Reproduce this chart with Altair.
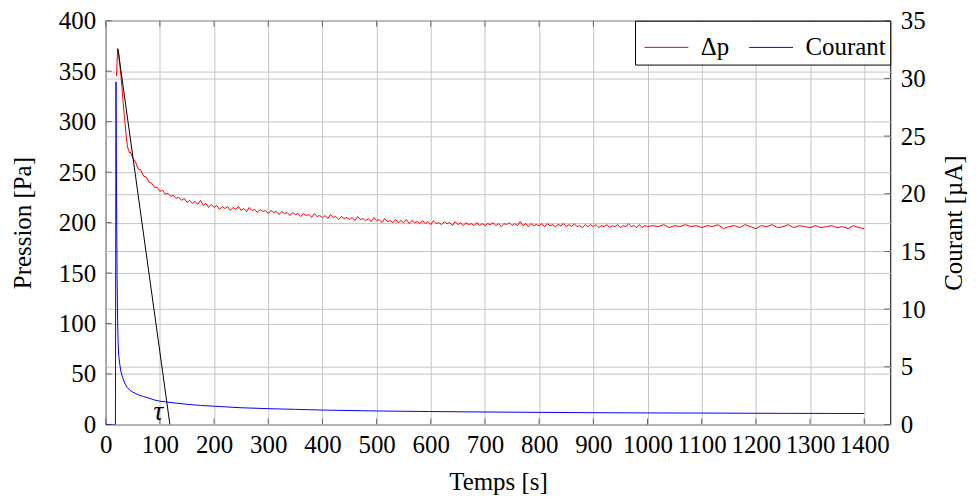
import altair as alt
import pandas as pd

# ---------------- data ----------------
# Δp (Pa): early transient, then samples every 5 s to 1000 s, then every 10 s to 1400 s
dp_early_t = [20, 22, 24, 26, 28, 30, 32, 34, 36, 38, 40, 42, 44, 46, 48, 50]
dp_early_v = [345, 372, 367, 356, 346, 334, 320, 308, 297, 285, 276, 272, 269, 270, 266, 264]

dp_mid_t = list(range(55, 1001, 5))
dp_mid_v = [
    260, 253, 252, 246, 245, 240, 239, 235, 235, 231,
    232, 228, 229, 226, 227, 224, 225, 222, 224, 220,
    222, 219, 221, 218, 222, 217, 219, 215, 218, 215,
    217, 213, 216, 214, 216, 212, 215, 213, 216, 212,
    214, 211, 215, 212, 213, 210, 213, 211, 212, 209,
    212, 210, 211, 208, 211, 209, 210, 207, 210, 208,
    209, 206, 209, 207, 208, 205, 209, 206, 207, 205,
    207, 204, 208, 205, 206, 203, 206, 204, 205, 203,
    205, 202, 206, 203, 204, 202, 204, 201, 205, 202,
    203, 200, 204, 201, 202, 200, 203, 200, 202, 200,
    203, 199, 202, 200, 201, 199, 202, 199, 201, 198,
    202, 199, 200, 198, 201, 199, 200, 197, 201, 198,
    200, 197, 200, 198, 199, 197, 200, 197, 199, 197,
    199, 198, 200, 197, 199, 196, 199, 198, 200, 197,
    199, 197, 201, 197, 199, 196, 199, 197, 198, 197,
    199, 196, 199, 197, 198, 196, 198, 197, 199, 196,
    198, 196, 199, 196, 197, 195, 198, 196, 198, 196,
    198, 195, 197, 196, 198, 195, 197, 196, 198, 195,
    197, 196, 199, 196, 197, 195, 198, 195, 197, 196,
]

dp_late_t = list(range(1010, 1401, 10))
dp_late_v = [
    197, 196, 198, 195, 197, 196, 198, 196, 197, 195,
    197, 196, 198, 194, 196, 197, 195, 198, 196, 194,
    197, 196, 198, 195, 196, 198, 195, 197, 196, 195,
    197, 195, 196, 197, 195, 196, 194, 197, 195, 194,
]

# Courant (µA)
cur_t = [0, 18, 19, 20, 21, 22, 23, 24, 26, 28, 31, 35, 40, 45, 50, 60, 70, 80, 90, 100,
         115, 130, 150, 175, 200, 250, 300, 350, 400, 500, 600, 700, 800, 900, 1000,
         1100, 1200, 1300, 1400]
cur_v = [0, 0, 29.7, 20, 13, 9, 7, 6, 5.2, 4.6, 4.1, 3.6, 3.2, 2.95, 2.8, 2.58, 2.42, 2.28,
         2.12, 2.02, 1.93, 1.85, 1.75, 1.65, 1.58, 1.45, 1.37, 1.31, 1.25, 1.17, 1.12, 1.08,
         1.05, 1.02, 1.0, 0.99, 0.97, 0.96, 0.95]

# tangent line (t, Pa)
tan_t = [22.5, 118.5]
tan_v = [372.5, 0]

# tau label
tau_t = [97]
tau_v = [12]

x_ticks = list(range(0, 1401, 100))
p_ticks = list(range(0, 401, 50))
c_ticks = list(range(0, 36, 5))

series_names = ["Δp", "Courant"]
series_colors = ["red", "blue"]

assert len(dp_mid_t) == len(dp_mid_v)
assert len(dp_late_t) == len(dp_late_v)
assert len(cur_t) == len(cur_v)

# ---------------- frames ----------------
dp_df = pd.DataFrame({
    "t": dp_early_t + dp_mid_t + dp_late_t,
    "v": dp_early_v + dp_mid_v + dp_late_v,
    "series": series_names[0],
})
cur_df = pd.DataFrame({"t": cur_t, "v": cur_v, "series": series_names[1]})
tan_df = pd.DataFrame({"t": tan_t, "v": tan_v})
tau_df = pd.DataFrame({"t": tau_t, "v": tau_v})
xt_df = pd.DataFrame({"t": x_ticks})
pt_df = pd.DataFrame({"v": p_ticks})
ct_df = pd.DataFrame({"v": c_ticks})

W, H = 787, 405
FONT = "Liberation Serif"
GRID = "#c4c4c4"
TICK = "#666666"

x_scale = alt.Scale(domain=[0, 1448], nice=False, zero=False)
x_axis = alt.Axis(values=x_ticks, title="Temps [s]", grid=True, tickSize=0,
                  labelOverlap=False, labelFlush=False, labelPadding=8,
                  titlePadding=12, domain=False, format="d")
yl_scale = alt.Scale(domain=[0, 400], nice=False)
yl_axis = alt.Axis(values=p_ticks, title="Pression [Pa]", grid=True, tickSize=0,
                   labelPadding=10, domain=False, labelFlush=False,
                   titleAngle=270, titleX=-83, titleY=H / 2,
                   titleAlign="center", titleBaseline="middle")
yr_scale = alt.Scale(domain=[0, 35], nice=False)
yr_axis = alt.Axis(values=c_ticks, title="Courant [µA]", orient="right", grid=True,
                   tickSize=0, labelPadding=10, titleAngle=270, titleX=63, titleY=H / 2,
                   titleAlign="center", titleBaseline="middle",
                   domain=False, labelFlush=False)

X = lambda: alt.X("t:Q", scale=x_scale, axis=x_axis)
YL = lambda: alt.Y("v:Q", scale=yl_scale, axis=yl_axis)
YR = lambda: alt.Y("v:Q", scale=yr_scale, axis=yr_axis)

color = alt.Color("series:N",
                  scale=alt.Scale(domain=series_names, range=series_colors),
                  legend=alt.Legend(title=None, orient="top-right", offset=0,
                                    direction="horizontal", symbolType="stroke",
                                    symbolSize=1936, symbolStrokeWidth=1,
                                    symbolOffset=5,
                                    labelFont=FONT, labelFontSize=25,
                                    labelOffset=12, columnPadding=14, padding=4,
                                    strokeColor="black", fillColor="white",
                                    cornerRadius=0, labelColor="black"))

red = alt.Chart(dp_df).mark_line(strokeWidth=1, clip=True).encode(
    x=X(), y=YL(), color=color, order="t:Q")
tangent = alt.Chart(tan_df).mark_line(color="black", strokeWidth=1, clip=True).encode(
    x=X(), y=YL())
tau = alt.Chart(tau_df).mark_text(text="τ", font=FONT, fontSize=27, fontStyle="italic",
                                  baseline="middle", align="center", color="black").encode(
    x=X(), y=YL())
lticks = alt.Chart(pt_df).mark_rule(color=TICK, strokeWidth=1).encode(
    y=YL(), x=alt.value(0), x2=alt.value(6))
bticks = alt.Chart(xt_df).mark_rule(color=TICK, strokeWidth=1).encode(
    x=X(), y=alt.value(H - 6), y2=alt.value(H))
tticks = alt.Chart(xt_df).mark_rule(color=TICK, strokeWidth=1).encode(
    x=X(), y=alt.value(0), y2=alt.value(6))

left = alt.layer(lticks, bticks, tticks, red, tangent, tau)

blue = alt.Chart(cur_df).mark_line(strokeWidth=1, clip=True).encode(
    x=X(), y=YR(), color=color, order="t:Q")
rticks = alt.Chart(ct_df).mark_rule(color=TICK, strokeWidth=1).encode(
    y=YR(), x=alt.value(W - 6), x2=alt.value(W))
right = alt.layer(rticks, blue)

chart = alt.layer(left, right).resolve_scale(y="independent").properties(
    width=W, height=H,
    background="white",
    autosize=alt.AutoSizeParams(type="none"),
    padding={"left": 98, "top": 12, "right": 78, "bottom": 76},
).configure_view(stroke="black", strokeWidth=1).configure_axis(
    labelFont=FONT, labelFontSize=25, labelColor="black",
    titleFont=FONT, titleFontSize=25, titleFontWeight="normal", titleColor="black",
    gridColor=GRID, gridWidth=1,
)

chart.save("out.html", embed_options={"renderer": "svg", "actions": False})
